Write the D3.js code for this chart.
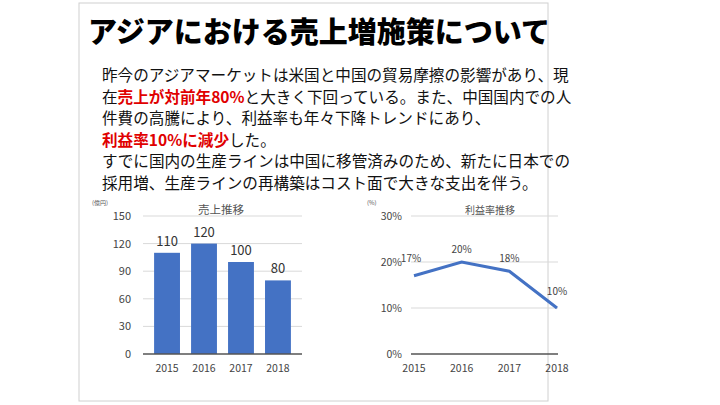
<!DOCTYPE html><html><head><meta charset="utf-8"><script src="https://cdn.jsdelivr.net/npm/d3@7"></script>
<style>body{margin:0;background:#fff}text{font-family:"Noto Sans CJK JP","Noto Sans",sans-serif}</style></head><body>
<svg id="c" width="720" height="405"></svg>
<script>
const years=["2015","2016","2017","2018"];
const sales=[110,120,100,80];
const margin=[17,20,18,10];
const salesTicks=[0,30,60,90,120,150];
const marginTicks=[0,10,20,30];
const bodyLines=[
 [["昨今のアジアマーケットは米国と中国の貿易摩擦の影響があり、現",0]],
 [["在",0],["売上が対前年80%",1],["と大きく下回っている。また、中国国内での人",0]],
 [["件費の高騰により、利益率も年々下降トレンドにあり、",0]],
 [["利益率10%に減少",1],["した。",0]],
 [["すでに国内の生産ラインは中国に移管済みのため、新たに日本での",0]],
 [["採用増、生産ラインの再構築はコスト面で大きな支出を伴う。",0]]];
const svg=d3.select("#c");
svg.append("rect").attr("x",79).attr("y",3).attr("width",469).attr("height",398).attr("fill","#fff").attr("stroke","#d0d0d0");
svg.append("text").attr("x",88).attr("y",43).attr("font-size",29).attr("font-weight",900).text("アジアにおける売上増施策について");
bodyLines.forEach((l,i)=>{const t=svg.append("text").attr("x",102).attr("y",81+i*21.6).attr("font-size",15.6).attr("textLength",null);
 l.forEach(s=>t.append("tspan").text(s[0]).attr("fill",s[1]?"#e00000":"#111").attr("font-weight",s[1]?"bold":"normal"));});
const blue="#4472c4";
// bar chart
const x1=d3.scaleBand().domain(years).range([143,302]).padding(0.3);
const y1=d3.scaleLinear().domain([0,150]).range([354,216]);
const g1=svg.append("g");
g1.selectAll(".gl").data(salesTicks.slice(1)).join("line").attr("x1",143).attr("x2",302).attr("y1",d=>y1(d)).attr("y2",d=>y1(d)).attr("stroke","#d9d9d9");
g1.selectAll(".yl").data(salesTicks).join("text").attr("x",131).attr("y",d=>y1(d)+4).attr("text-anchor","end").attr("font-size",11).attr("fill","#444").text(d=>d);
g1.selectAll("rect").data(sales).join("rect").attr("x",(d,i)=>x1(years[i])).attr("width",x1.bandwidth()).attr("y",d=>y1(d)).attr("height",d=>y1(0)-y1(d)).attr("fill",blue);
g1.append("line").attr("x1",143).attr("x2",302).attr("y1",y1(0)).attr("y2",y1(0)).attr("stroke","#555").attr("stroke-width",1.5);
g1.selectAll(".v").data(sales).join("text").attr("x",(d,i)=>x1(years[i])+x1.bandwidth()/2).attr("y",d=>y1(d)-7).attr("text-anchor","middle").attr("font-size",13).attr("fill","#333").text(d=>d);
g1.selectAll(".xl").data(years).join("text").attr("x",d=>x1(d)+x1.bandwidth()/2).attr("y",372).attr("text-anchor","middle").attr("font-size",10.5).attr("fill","#444").text(d=>d);
g1.append("text").attr("x",221).attr("y",214).attr("text-anchor","middle").attr("font-size",11.5).attr("fill","#555").text("売上推移");
g1.append("text").attr("x",92).attr("y",205).attr("font-size",6).attr("fill","#555").text("(億円)");
// line chart
const x2=d3.scalePoint().domain(years).range([414,557]);
const y2=d3.scaleLinear().domain([0,30]).range([354,216]);
const g2=svg.append("g");
g2.selectAll(".gl").data(marginTicks.slice(1)).join("line").attr("x1",411).attr("x2",558).attr("y1",d=>y2(d)).attr("y2",d=>y2(d)).attr("stroke","#d9d9d9");
g2.append("line").attr("x1",411).attr("x2",558).attr("y1",y2(0)).attr("y2",y2(0)).attr("stroke","#555").attr("stroke-width",1.5);
g2.selectAll(".yl").data(marginTicks).join("text").attr("x",402).attr("y",d=>y2(d)+4).attr("text-anchor","end").attr("font-size",10.5).attr("fill","#444").text(d=>d+"%");
g2.append("path").datum(margin).attr("d",d3.line().x((d,i)=>x2(years[i])).y(d=>y2(d))).attr("fill","none").attr("stroke",blue).attr("stroke-width",3);
const lblDy=[-14,-9,-9,-13];const lblDx=[-3,0,0,0];
g2.selectAll(".v").data(margin).join("text").attr("x",(d,i)=>x2(years[i])+lblDx[i]).attr("y",(d,i)=>y2(d)+lblDy[i]).attr("text-anchor","middle").attr("font-size",10).attr("fill","#444").text(d=>d+"%");
g2.selectAll(".xl").data(years).join("text").attr("x",d=>x2(d)).attr("y",372).attr("text-anchor","middle").attr("font-size",10.5).attr("fill","#444").text(d=>d);
g2.append("text").attr("x",490).attr("y",214).attr("text-anchor","middle").attr("font-size",10).attr("fill","#555").text("利益率推移");
g2.append("text").attr("x",367).attr("y",205).attr("font-size",6).attr("fill","#555").text("(%)");
</script></body></html>
